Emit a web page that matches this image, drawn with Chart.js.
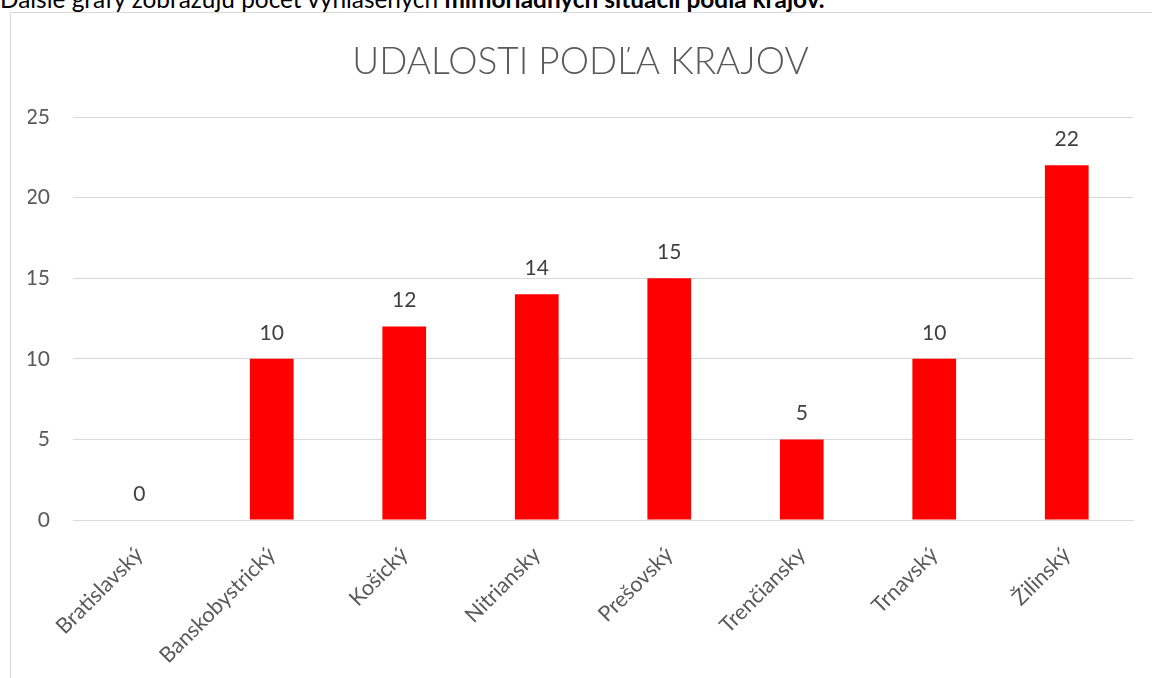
<!DOCTYPE html>
<html>
<head>
<meta charset="utf-8">
<script src="https://cdn.jsdelivr.net/npm/chart.js@4"></script>
<style>
  html, body { margin: 0; padding: 0; background: #fff; overflow: hidden; }
  body { width: 1152px; height: 678px; position: relative; font-family: Lato, "Open Sans", sans-serif; }
  #intro { position: absolute; left: 0; top: -13px; font-size: 24.4px; line-height: 24px; white-space: nowrap; color: #000; }
  #frame { position: absolute; left: 10px; top: 12px; width: 1142px; height: 666px;
           border-left: 1px solid #d9d9d9; border-top: 1px solid #d9d9d9; }
  #frame canvas { display: block; }
</style>
</head>
<body>
<div id="intro">Ďalšie grafy zobrazujú počet vyhlásených <b>mimoriadnych situácií podľa krajov.</b></div>
<div id="frame"><canvas id="chart" width="1141" height="665"></canvas></div>
<script>
window.addEventListener('DOMContentLoaded', (event) => {
  // Data
  const regions = ["Bratislavský", "Banskobystrický", "Košický", "Nitriansky",
                   "Prešovský", "Trenčiansky", "Trnavský", "Žilinský"];
  const events = [0, 10, 12, 14, 15, 5, 10, 22];
  const yTicks = [0, 5, 10, 15, 20, 25];

  const fontFamily = "Lato, 'Open Sans', sans-serif";

  // value labels above the bars
  const valueLabels = {
    id: "valueLabels",
    afterDatasetsDraw(chart) {
      const ctx = chart.ctx;
      const meta = chart.getDatasetMeta(0);
      ctx.save();
      ctx.font = "21px " + fontFamily;
      ctx.fillStyle = "#404040";
      ctx.textAlign = "center";
      ctx.textBaseline = "middle";
      meta.data.forEach((bar, i) => {
        ctx.fillText(String(events[i]), bar.x, bar.y - 26);
      });
      ctx.restore();
    }
  };

  const chart = new Chart(document.getElementById("chart"), {
    type: "bar",
    data: {
      labels: regions,
      datasets: [{
        label: "Udalosti",
        data: events,
        backgroundColor: "#ff0000",
        barPercentage: 0.33,
        categoryPercentage: 1.0
      }]
    },
    options: {
      responsive: false,
      animation: false,
      // left padding nudges the title right, like in the original
      layout: { padding: { left: 17, right: 19, top: 0, bottom: 0 } },
      plugins: {
        legend: { display: false },
        tooltip: { enabled: false },
        title: {
          display: true,
          text: "UDALOSTI PODĽA KRAJOV",
          color: "#595959",
          font: { family: fontFamily, size: 37, weight: "300", lineHeight: 1.2 },
          padding: { top: 27, bottom: 32.6 }
        }
      },
      scales: {
        x: {
          grid: { display: false, drawTicks: false },
          border: { color: "#d9d9d9", width: 1 },
          ticks: {
            color: "#595959",
            font: { family: fontFamily, size: 21.5 },
            maxRotation: 45,
            minRotation: 45,
            padding: 22
          },
          afterFit(scale) { scale.height = 158; }
        },
        y: {
          min: 0,
          max: 25,
          afterBuildTicks(scale) { scale.ticks = yTicks.map(v => ({ value: v })); },
          grid: { color: "#d9d9d9", drawTicks: false },
          border: { display: false },
          ticks: {
            color: "#595959",
            font: { family: fontFamily, size: 21 },
            padding: 23
          },
          afterFit(scale) { scale.width = 45; }
        }
      }
    },
    plugins: [valueLabels]
  });
});
</script>
</body>
</html>
